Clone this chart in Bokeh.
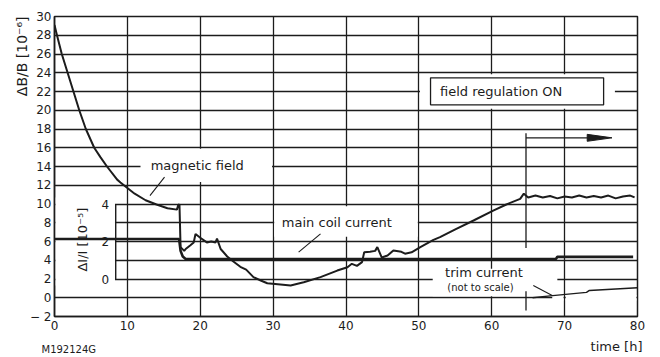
from bokeh.plotting import figure
from bokeh.models import Range1d, FixedTicker, Label, Title
from bokeh.core.properties import value
from bokeh.embed import file_html
from bokeh.resources import INLINE

# ---------------- data ----------------
x_ticks = [0, 10, 20, 30, 40, 50, 60, 70, 80]
y_ticks = list(range(-2, 31, 2))
inset_ticks = [0, 2, 4]

# magnetic field  dB/B [1e-6]  vs time [h]
field_t = [0.0, 0.34, 1.0, 1.8, 2.6, 3.4, 4.3, 5.45, 6.3, 7.2,
           8.6, 9.05, 10.0, 11.0, 12.5, 14.0, 15.5, 16.8, 17.0, 17.15,
           17.3, 17.8, 18.0, 18.65, 19.1, 19.35, 20.0, 20.9, 21.5, 22.1,
           22.3, 22.8, 23.7, 24.5, 25.5, 26.3, 27.3, 28.3, 29.2, 31.0,
           32.4, 34.2, 36.5, 38.8, 40.2, 40.8, 41.5, 42.2, 42.5, 43.3,
           44.0, 44.3, 44.9, 45.7, 46.5, 47.6, 48.1, 49.0, 50.2, 52.0,
           52.9, 55.0, 57.5, 60.2, 62.0, 63.9, 64.4, 65.0, 66.0, 67.0,
           68.0, 69.0, 70.0, 71.0, 72.0, 73.0, 74.0, 75.0, 76.0, 77.0,
           78.0, 79.0, 79.6]
field_v = [29.1, 28.0, 26.0, 24.0, 22.0, 20.0, 18.0, 16.0, 15.0, 14.0,
           12.6, 12.3, 11.7, 11.1, 10.4, 9.95, 9.55, 9.4, 9.95, 9.9,
           5.4, 5.0, 5.2, 5.6, 5.9, 6.8, 6.4, 5.9, 6.0, 5.9,
           6.3, 5.2, 4.4, 3.9, 3.3, 3.0, 2.2, 1.84, 1.55, 1.41,
           1.3, 1.66, 2.2, 2.9, 3.26, 3.62, 3.4, 3.8, 4.86, 4.9,
           5.0, 5.4, 4.3, 4.5, 5.04, 4.9, 4.7, 4.85, 5.4, 6.18,
           6.46, 7.3, 8.24, 9.3, 9.95, 10.55, 11.1, 10.7, 10.9, 10.7,
           10.85, 10.6, 10.8, 10.7, 10.9, 10.7, 10.85, 10.7, 10.9, 10.6,
           10.8, 10.9, 10.7]

# main coil current  dI/I [1e-5]  (inset scale)
coil_t = [0.0, 17.1, 17.3, 17.6, 18.0, 68.8, 69.0, 79.4]
coil_v = [2.13, 2.13, 1.5, 1.2, 1.07, 1.07, 1.18, 1.18]

# trim current (not to scale), plotted on main scale
trim_t = [65.6, 68.0, 73.0, 73.4, 80.0]
trim_v = [0.0, 0.2, 0.57, 0.78, 1.07]

regulation_on_t = 64.7

# ---------------- figure ----------------
INK = "#1c1c1c"
FONT = "DejaVu Sans"

p = figure(width=660, height=357, x_range=Range1d(0, 80), y_range=Range1d(-2, 30),
           output_backend="svg", toolbar_location=None,
           min_border_left=54, min_border_right=23, min_border_top=16, min_border_bottom=41)
p.extra_y_ranges = {"inset": Range1d(-2, 14)}   # inset 0..4 -> main 2..10

p.background_fill_color = "white"
p.border_fill_color = "white"
p.outline_line_color = INK
p.outline_line_width = 1.5

for ax, ticks in ((p.xaxis[0], x_ticks), (p.yaxis[0], y_ticks)):
    ax.ticker = FixedTicker(ticks=ticks)
    ax.axis_line_color = INK
    ax.axis_line_width = 1.5
    ax.major_tick_line_color = None
    ax.minor_tick_line_color = None
    ax.major_tick_out = 0
    ax.major_tick_in = 0
    ax.minor_tick_out = 0
    ax.major_label_text_font = FONT
    ax.major_label_text_font_size = "12px"
    ax.major_label_text_color = INK
p.yaxis.major_label_standoff = 3
p.xaxis.major_label_standoff = 4
p.yaxis.major_label_overrides = {-2: "\u2212 2"}

p.xgrid.ticker = FixedTicker(ticks=x_ticks)
p.ygrid.ticker = FixedTicker(ticks=y_ticks)
for g in (p.xgrid[0], p.ygrid[0]):
    g.grid_line_color = INK
    g.grid_line_width = 1.3

# white patches where the drawing interrupts the grid for lettering
mask_l = [0.12, 11.8, 30.15, 50.15, 51.9, 68.3, 70.15]
mask_r = [8.3, 29.85, 49.85, 76.9, 69.0, 69.85, 79.85]
mask_b = [1.3, 12.35, 6.5, 20.15, 0.15, -0.3, -0.3]
mask_t = [10.7, 15.9, 9.75, 23.85, 3.1, 0.3, 0.3]
p.quad(left=mask_l, right=mask_r, bottom=mask_b, top=mask_t,
       fill_color="white", line_color=None)

# "field regulation ON" box
p.quad(left=[51.6], right=[75.35], bottom=[20.58], top=[23.46],
       fill_color=None, line_color=INK, line_width=1.3)

# inset axis
p.segment(x0=[8.4], y0=[0], x1=[8.4], y1=[4], y_range_name="inset",
          line_color=INK, line_width=1.4)
p.text(x=[7.5] * len(inset_ticks), y=inset_ticks, text=[str(v) for v in inset_ticks],
       y_range_name="inset", text_align="right", text_baseline="middle",
       text_font=value(FONT), text_font_size="12px", text_color=INK)

# data
p.line(field_t, field_v, line_color=INK, line_width=2.0)
p.line(coil_t, coil_v, y_range_name="inset", line_color=INK, line_width=2.6)
p.line(trim_t, trim_v, line_color=INK, line_width=1.4)

# regulation marker and arrow
p.segment(x0=[regulation_on_t, regulation_on_t], y0=[17.55, 0.7],
          x1=[regulation_on_t, regulation_on_t], y1=[5.3, -1.35],
          line_color=INK, line_width=1.3)
p.segment(x0=[regulation_on_t], y0=[17.06], x1=[73.3], y1=[17.06],
          line_color=INK, line_width=1.3)
p.patch([73.1, 76.5, 73.1], [17.43, 17.06, 16.69], fill_color=INK, line_color=INK)

# leader lines
p.segment(x0=[15.1, 36.5, 65.7], y0=[12.86, 6.82, 1.3],
          x1=[13.1, 33.5, 68.3], y1=[10.9, 4.86, 0.24],
          line_color=INK, line_width=1.1)

def lab(x, y, text, size="13px", align="left", angle=0.0):
    p.add_layout(Label(x=x, y=y, text=text, text_font=FONT, text_font_size=size,
                       text_color=INK, text_align=align, text_baseline="middle",
                       angle=angle))

lab(13.2, 14.1, "magnetic field")
lab(31.2, 8.0, "main coil current")
lab(52.9, 21.95, "field regulation ON")
lab(53.6, 2.7, "trim current")
lab(53.9, 1.1, "(not to scale)", size="10px")
lab(3.8, 6.2, "\u0394I/I [10\u207b\u2075]", size="13px", align="center", angle=1.5708)

# texts outside the frame: titles in the side panels
def side_title(text, side, align, size, standoff=0.0, offset=0.0, valign="bottom"):
    p.add_layout(Title(text=text, align=align, text_font=FONT, text_font_size=size,
                       text_font_style="normal", text_color=INK, vertical_align=valign,
                       standoff=standoff, offset=offset), side)

side_title("\u0394B/B [10\u207b\u2076]", "left", "right", "14px", standoff=-6)
side_title("time [h]", "below", "right", "13px", standoff=8, offset=-5)
side_title("M192124G", "below", "left", "10px", standoff=-28, offset=-13, valign="top")

open("out.html", "w").write(file_html(p, INLINE))
